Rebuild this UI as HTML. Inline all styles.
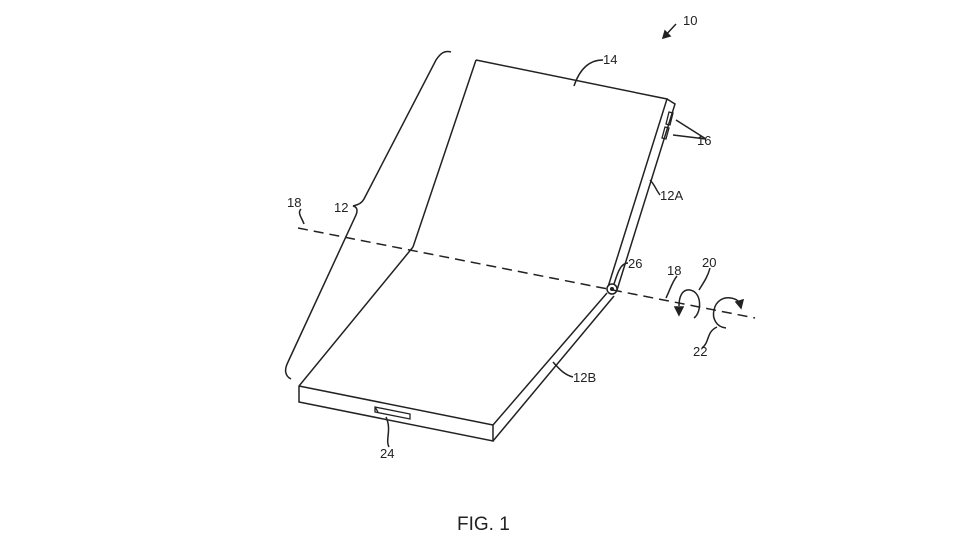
<!DOCTYPE html>
<html><head><style>body{margin:0;background:#fff}svg{display:block}</style></head><body>
<svg width="970" height="546" viewBox="0 0 970 546" xmlns="http://www.w3.org/2000/svg" font-family="Liberation Sans, sans-serif" font-size="13" fill="none" stroke="#222" stroke-width="1.5">
<!-- upper panel -->
<path d="M476,60 L667,99 L608,287 M476,60 L413,247"/>
<path d="M667,99 L675,104 L617,290"/>
<!-- buttons -->
<path d="M669,112 l4,1 l-3,12 l-4,-1 z M665,127 l4,1 l-3,11 l-4,-1 z" stroke-width="1.3"/>
<!-- lower panel -->
<path d="M413,247 L299,386 L299,402 L493,441 L493,425 L299,386"/>
<path d="M493,425 L607,293 M493,441 L614,296"/>
<!-- slot -->
<path d="M375,407 L410,414 L410,419 L375,412 Z M375,407 l3,5" stroke-width="1.3"/>
<!-- hinge -->
<circle cx="612" cy="289" r="5" fill="#fff"/>
<circle cx="612" cy="289" r="1.3" fill="#222"/>
<!-- axis -->
<line x1="298" y1="228" x2="755" y2="318" stroke-dasharray="10,6"/>
<!-- brace -->
<path d="M451,52 C444,50 440,54 436,60 L364,199 C362,203 358,205 353,206 C357,207 358,210 356,215 L288,362 C284,370 285,376 291,379"/>
<!-- leaders -->
<path d="M603,60 C590,60 580,68 574,86"/>
<path d="M706,139 L676,120 M706,139 L673,135"/>
<path d="M660,195 C656,190 655,185 650,180"/>
<path d="M301,209 C297,213 302,218 304,224"/>
<path d="M628,263 C620,263 617,275 614,284"/>
<path d="M677,276 C672,282 670,290 666,298"/>
<path d="M710,268 C708,276 704,282 699,290"/>
<path d="M702,348 C710,342 706,332 717,327"/>
<path d="M573,377 C565,375 560,370 553,362"/>
<path d="M389,447 C385,440 392,430 386,417"/>
<path d="M676,24 L663,38"/>
<path d="M663,38 l2,-7 l5,5 z" fill="#222"/>
<!-- rotation arrows -->
<path d="M694,318 C702,312 702,292 690,290 C682,289 679,297 679,306"/>
<path d="M679,315 l-4,-8 l8,0 z" fill="#222"/>
<path d="M726,328 C716,327 712,318 714,310 C716,300 724,297 731,298 C737,299 740,302 741,306"/>
<path d="M741,308 l-5,-6 l7,-2 z" fill="#222"/>
<!-- labels -->
<g fill="#222" stroke="none">
<text x="683" y="25">10</text>
<text x="603" y="64">14</text>
<text x="697" y="145">16</text>
<text x="660" y="200">12A</text>
<text x="287" y="207">18</text>
<text x="334" y="212">12</text>
<text x="628" y="268">26</text>
<text x="667" y="275">18</text>
<text x="702" y="267">20</text>
<text x="693" y="356">22</text>
<text x="573" y="382">12B</text>
<text x="380" y="458">24</text>
<text x="457" y="530" font-size="19">FIG. 1</text>
</g>
</svg>
</body></html>
